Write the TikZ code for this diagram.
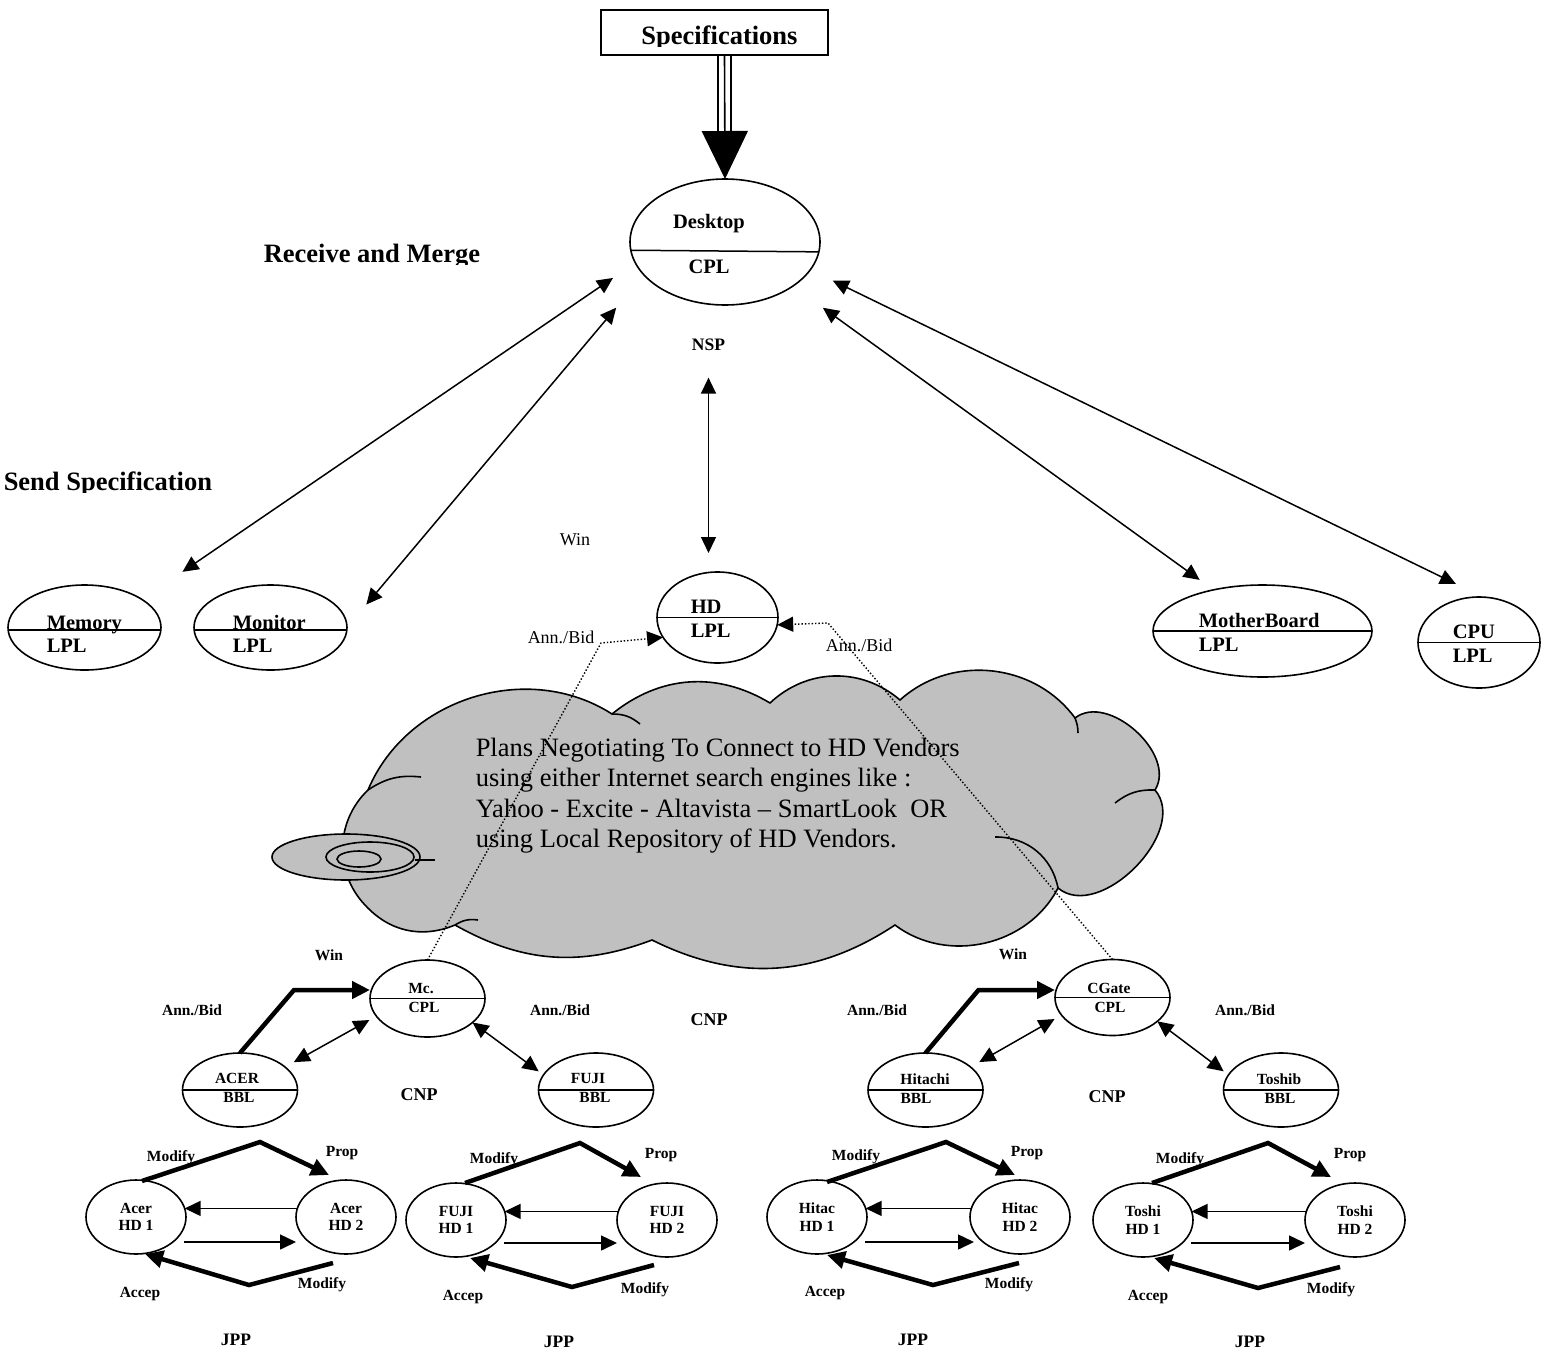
\documentclass[tikz,border=0pt]{standalone}
\usepackage{fontspec}
\setmainfont{Liberation Serif}
\usetikzlibrary{shapes.geometric,arrows.meta}
\definecolor{cloudgray}{RGB}{192,192,192}

\begin{document}
\begin{tikzpicture}[x=1pt,y=-1pt,line width=1.5pt,
    >={Triangle[length=16pt,width=15pt]},
    agent/.style={draw,ellipse,line width=1.6pt,inner sep=0pt,outer sep=0pt},
    hdunit/.style={agent,minimum width=100pt,minimum height=74pt,align=center,
      font=\bfseries\fontsize{15.5}{17.5}\selectfont},
    hdr/.style={font=\bfseries\fontsize{26.5}{30}\selectfont,inner sep=0pt},
    role/.style={font=\bfseries\fontsize{20.5}{24}\selectfont,inner sep=0pt,anchor=base west},
    lbl/.style={font=\bfseries\fontsize{15.5}{17.5}\selectfont,inner sep=0pt},
    proto/.style={font=\bfseries\fontsize{18}{20}\selectfont,inner sep=0pt},
    msg/.style={font=\fontsize{18}{20}\selectfont,inner sep=0pt},
    heavy/.style={line width=4.5pt,-{Triangle[length=18pt,width=17pt]}},
    bid/.style={dotted,line width=1.4pt,->}]
  \useasboundingbox (0,0) rectangle (1542,1349);

  % headings
  \node[draw,line width=1.6pt,minimum width=227pt,minimum height=45pt,inner sep=0pt] (spec) at (714.5,32.5) {};
  \begin{scope}
    \clip (600,11) rectangle (828,46);
    \node[hdr,anchor=base] (spectxt) at (719.5,44) {Specifications};
  \end{scope}
  \begin{scope}
    \clip (250,220) rectangle (520,264);
    \node[hdr,anchor=base west] (merge) at (263,262) {Receive and Merge};
  \end{scope}
  \begin{scope}
    \clip (0,450) rectangle (230,492);
    \node[hdr,anchor=base west] (send) at (3,490) {Send Specification};
  \end{scope}

  % desktop
  \node[agent,minimum width=190pt,minimum height=126pt] (desk) at (725,242) {};
  \draw (desk.185.5) -- (desk.354.5);
  \node[role,anchor=base] (desktxt) at (709,228) {Desktop};
  \node[role,anchor=base] (deskcpl) at (709,273) {CPL};
  \draw[line width=1.6pt,-{Triangle[length=48pt,width=46pt]}] ([xshift=10pt]spec.south) -- (desk.north);
  \draw[line width=1.6pt] ([xshift=3.5pt]spec.south) -- ++(0,76);
  \draw[line width=1.6pt] ([xshift=16.5pt]spec.south) -- ++(0,76);
  \node[proto,font=\bfseries\fontsize{17.5}{20}\selectfont] (nsp) at (708.5,345) {NSP};

  % part agents
  \node[agent,minimum width=153pt,minimum height=85pt] (mem) at (84.5,627.5) {};
  \draw (mem.182) -- (mem.358);
  \node[role] (memtxt) at (46,629) {Memory};
  \node[role] (memlpl) at (46,652) {LPL};
  \node[agent,minimum width=153pt,minimum height=85pt] (mon) at (270.5,627.5) {};
  \draw (mon.182) -- (mon.358);
  \node[role] (montxt) at (232,629) {Monitor};
  \node[role] (monlpl) at (232,652) {LPL};
  \node[agent,minimum width=219pt,minimum height=92pt] (mb) at (1262.5,631) {};
  \draw (mb.west) -- (mb.east);
  \node[role] (mbtxt) at (1198,627) {MotherBoard};
  \node[role] (mblpl) at (1198,651) {LPL};
  \node[agent,minimum width=122pt,minimum height=91pt] (cpu) at (1479,642.5) {};
  \draw (cpu.west) -- (cpu.east);
  \node[role] (cputxt) at (1452,638) {CPU};
  \node[role] (cpulpl) at (1452,662) {LPL};
  \node[agent,minimum width=121pt,minimum height=91pt] (hd) at (717.5,617.5) {};
  \draw (hd.west) -- (hd.east);
  \node[role] (hdtxt) at (690,613) {HD};
  \node[role] (hdlpl) at (690,637) {LPL};

  \draw[<->,shorten <=27pt,shorten >=49pt] (desk.193) -- (mem.26);
  \draw[<->,shorten <=43pt,shorten >=30pt] (desk.202) -- (mon.east);
  \draw[<->,shorten <=37pt,shorten >=17pt] (desk.327) -- (mb.140);
  \draw[<->,shorten <=25pt,shorten >=30pt] (desk.342) -- (cpu.85);
  \draw[<->,shorten <=26pt,shorten >=19pt] (nsp.south) -- (nsp.south |- hd.north);
  \node[msg] (winhd) at (575,540) {Win};
  \node[msg] (bidl) at (561,637) {Ann./Bid};
  \node[msg] (bidr) at (859,645) {Ann./Bid};

  % cloud
  \draw[fill=cloudgray,line width=1.6pt] (365,905) to[bend left=45] (368,790)
    to[bend left=50] (612,714) to[bend left=35] (770,703) to[bend left=42] (900,700)
    to[bend left=48] (1075,718) to[bend left=80] (1155,790) to[bend left=85] (1058,888)
    to[bend left=50] (895,925) to[bend left=30] (652,940) to[bend left=25] (455,925)
    to[bend left=35] (365,905) -- cycle;
  \draw[line width=1.6pt] (612,714) to[bend left=20] (640,724);
  \draw[line width=1.6pt] (1075,718) to[bend left=10] (1078,733);
  \draw[line width=1.6pt] (1155,790) to[bend right=20] (1115,803);
  \draw[line width=1.6pt] (995,837) to[bend left=40] (1058,888);
  \draw[line width=1.6pt] (455,925) to[bend left=20] (478,920);
  \draw[line width=1.6pt] (368,790) to[bend left=20] (421,777);
  \draw[fill=cloudgray,line width=1.6pt] (346,857) ellipse [x radius=74pt,y radius=23pt];
  \draw[line width=1.6pt] (370,857) ellipse [x radius=44pt,y radius=15pt];
  \draw[line width=1.6pt] (359,859) ellipse [x radius=22pt,y radius=8pt];
  \draw[line width=1.6pt] (415,860) -- (435,860);
  \node[font=\fontsize{26.5}{30.5}\selectfont,align=left,anchor=north west,inner sep=0pt] (plan) at (475,737)
    {Plans Negotiating To Connect to HD Vendors\\using either Internet search engines like :\\Yahoo - Excite - Altavista – SmartLook\ \ OR\\using Local Repository of HD Vendors.};

  % contractors
  \node[agent,minimum width=115pt,minimum height=77pt] (mc) at (427.5,998.5) {};
  \draw (mc.west) -- (mc.east);
  \node[lbl,anchor=base] (mctxt) at (421,993) {Mc.};
  \node[lbl,anchor=base] (mccpl) at (424,1012) {CPL};
  \node[agent,minimum width=115pt,minimum height=74pt] (acer) at (240,1090) {};
  \draw (acer.west) -- (acer.east);
  \node[lbl,anchor=base] (acertxt) at (237,1083) {ACER};
  \node[lbl,anchor=base] (acerbbl) at (239,1102) {BBL};
  \node[agent,minimum width=115pt,minimum height=74pt] (fuji) at (596,1090) {};
  \draw (fuji.west) -- (fuji.east);
  \node[lbl,anchor=base] (fujitxt) at (588,1083) {FUJI};
  \node[lbl,anchor=base] (fujibbl) at (595,1102) {BBL};
  \node[agent,minimum width=115pt,minimum height=76pt] (cgate) at (1112.5,997.5) {};
  \draw (cgate.west) -- (cgate.east);
  \node[lbl,anchor=base] (cgtxt) at (1109,993) {CGate};
  \node[lbl,anchor=base] (cgcpl) at (1110,1012) {CPL};
  \node[agent,minimum width=115pt,minimum height=74pt] (hitachi) at (925.5,1090) {};
  \draw (hitachi.west) -- (hitachi.east);
  \node[lbl,anchor=base] (hittxt) at (925,1084) {Hitachi};
  \node[lbl,anchor=base] (hitbbl) at (916,1103) {BBL};
  \node[agent,minimum width=115pt,minimum height=74pt] (toshib) at (1281,1090) {};
  \draw (toshib.west) -- (toshib.east);
  \node[lbl,anchor=base] (toshtxt) at (1279,1084) {Toshib};
  \node[lbl,anchor=base] (toshbbl) at (1280,1103) {BBL};

  \draw[bid] (mc.north) -- (601,643) coordinate (mcbid) -- (hd.200);
  \draw[bid] (cgate.north) -- (828,623) coordinate (cgbid) -- (hd.353);

  \draw[heavy] (acer.north) -- ++(54,-63) coordinate (acerbend) -- (acerbend -| mc.west);
  \draw[<->,shorten <=10pt,shorten >=8pt] (acer.27) -- (mc.199);
  \draw[<->,shorten >=6pt] (mc.332) -- (fuji.164);
  \draw[heavy] (hitachi.north) -- ++(53,-63) coordinate (hitbend) -- (hitbend -| cgate.west);
  \draw[<->,shorten <=10pt,shorten >=8pt] (hitachi.27) -- (cgate.199);
  \draw[<->,shorten >=6pt] (cgate.332) -- (toshib.164);

  \node[lbl] (winl) at (329,955) {Win};
  \node[lbl] (bidll) at (192,1010) {Ann./Bid};
  \node[lbl] (bidlr) at (560,1010) {Ann./Bid};
  \node[proto] (cnpl) at (419,1095) {CNP};
  \node[proto] (cnpm) at (709,1020) {CNP};
  \node[lbl] (winr) at (1013,954) {Win};
  \node[lbl] (bidrl) at (877,1010) {Ann./Bid};
  \node[lbl] (bidrr) at (1245,1010) {Ann./Bid};
  \node[proto] (cnpr) at (1107,1097) {CNP};

  % Acer pair
  \node[hdunit] (acer1) at (136,1217) {Acer\\HD 1};
  \node[hdunit] (acer2) at (346,1217) {Acer\\HD 2};
  \draw[heavy] ([shift={(6,-36)}]acer1.center) -- ([shift={(124,-75)}]acer1.center) -- ([shift={(-17,-42)}]acer2.center);
  \draw[heavy] ([shift={(-13,46)}]acer2.center) -- ([shift={(113,68)}]acer1.center) -- ([shift={(9,37)}]acer1.center);
  \draw[->] (acer2.170) -- (acer1.10);
  \draw[->] ([shift={(48,25)}]acer1.center) -- ([shift={(-50,25)}]acer2.center);
  \node[lbl] (acermod) at (171,1158) {Modify};
  \node[lbl] (acerprop) at (342,1153) {Prop};
  \node[lbl] (acermodb) at (322,1285) {Modify};
  \node[lbl] (aceracc) at (140,1294) {Accep};
  \node[proto,font=\bfseries\fontsize{17.5}{20}\selectfont] (acerjpp) at (236,1340) {JPP};

  % FUJI pair
  \node[hdunit] (fuji1) at (456,1220) {FUJI\\HD 1};
  \node[hdunit] (fuji2) at (667,1220) {FUJI\\HD 2};
  \draw[heavy] ([shift={(9,-37)}]fuji1.center) -- ([shift={(124,-77)}]fuji1.center) -- ([shift={(-26,-43)}]fuji2.center);
  \draw[heavy] ([shift={(-13,45)}]fuji2.center) -- ([shift={(116,67)}]fuji1.center) -- ([shift={(14,38)}]fuji1.center);
  \draw[->] (fuji2.170) -- (fuji1.10);
  \draw[->] ([shift={(48,23)}]fuji1.center) -- ([shift={(-50,23)}]fuji2.center);
  \node[lbl] (fujimod) at (494,1160) {Modify};
  \node[lbl] (fujiprop) at (661,1155) {Prop};
  \node[lbl] (fujimodb) at (645,1290) {Modify};
  \node[lbl] (fujiacc) at (463,1297) {Accep};
  \node[proto,font=\bfseries\fontsize{17.5}{20}\selectfont] (fujijpp) at (559,1342) {JPP};

  % Hitac pair
  \node[hdunit] (hitac1) at (817,1217) {Hitac\\HD 1};
  \node[hdunit] (hitac2) at (1020,1217) {Hitac\\HD 2};
  \draw[heavy] ([shift={(10,-35)}]hitac1.center) -- ([shift={(129,-75)}]hitac1.center) -- ([shift={(-5,-42)}]hitac2.center);
  \draw[heavy] ([shift={(-1,46)}]hitac2.center) -- ([shift={(116,68)}]hitac1.center) -- ([shift={(10,38)}]hitac1.center);
  \draw[->] (hitac2.170) -- (hitac1.10);
  \draw[->] ([shift={(48,25)}]hitac1.center) -- ([shift={(-46,25)}]hitac2.center);
  \node[lbl] (hitmod) at (856,1157) {Modify};
  \node[lbl] (hitprop) at (1027,1153) {Prop};
  \node[lbl] (hitmodb) at (1009,1285) {Modify};
  \node[lbl] (hitacc) at (825,1293) {Accep};
  \node[proto,font=\bfseries\fontsize{17.5}{20}\selectfont] (hitjpp) at (913,1340) {JPP};

  % Toshi pair
  \node[hdunit] (toshi1) at (1143,1220) {Toshi\\HD 1};
  \node[hdunit] (toshi2) at (1355,1220) {Toshi\\HD 2};
  \draw[heavy] ([shift={(9,-37)}]toshi1.center) -- ([shift={(125,-77)}]toshi1.center) -- ([shift={(-24,-43)}]toshi2.center);
  \draw[heavy] ([shift={(-15,47)}]toshi2.center) -- ([shift={(115,68)}]toshi1.center) -- ([shift={(11,38)}]toshi1.center);
  \draw[->] (toshi2.170) -- (toshi1.10);
  \draw[->] ([shift={(48,23)}]toshi1.center) -- ([shift={(-50,23)}]toshi2.center);
  \node[lbl] (toshmod) at (1180,1160) {Modify};
  \node[lbl] (toshprop) at (1350,1155) {Prop};
  \node[lbl] (toshmodb) at (1331,1290) {Modify};
  \node[lbl] (toshacc) at (1148,1297) {Accep};
  \node[proto,font=\bfseries\fontsize{17.5}{20}\selectfont] (toshjpp) at (1250,1342) {JPP};
\end{tikzpicture}
\end{document}
